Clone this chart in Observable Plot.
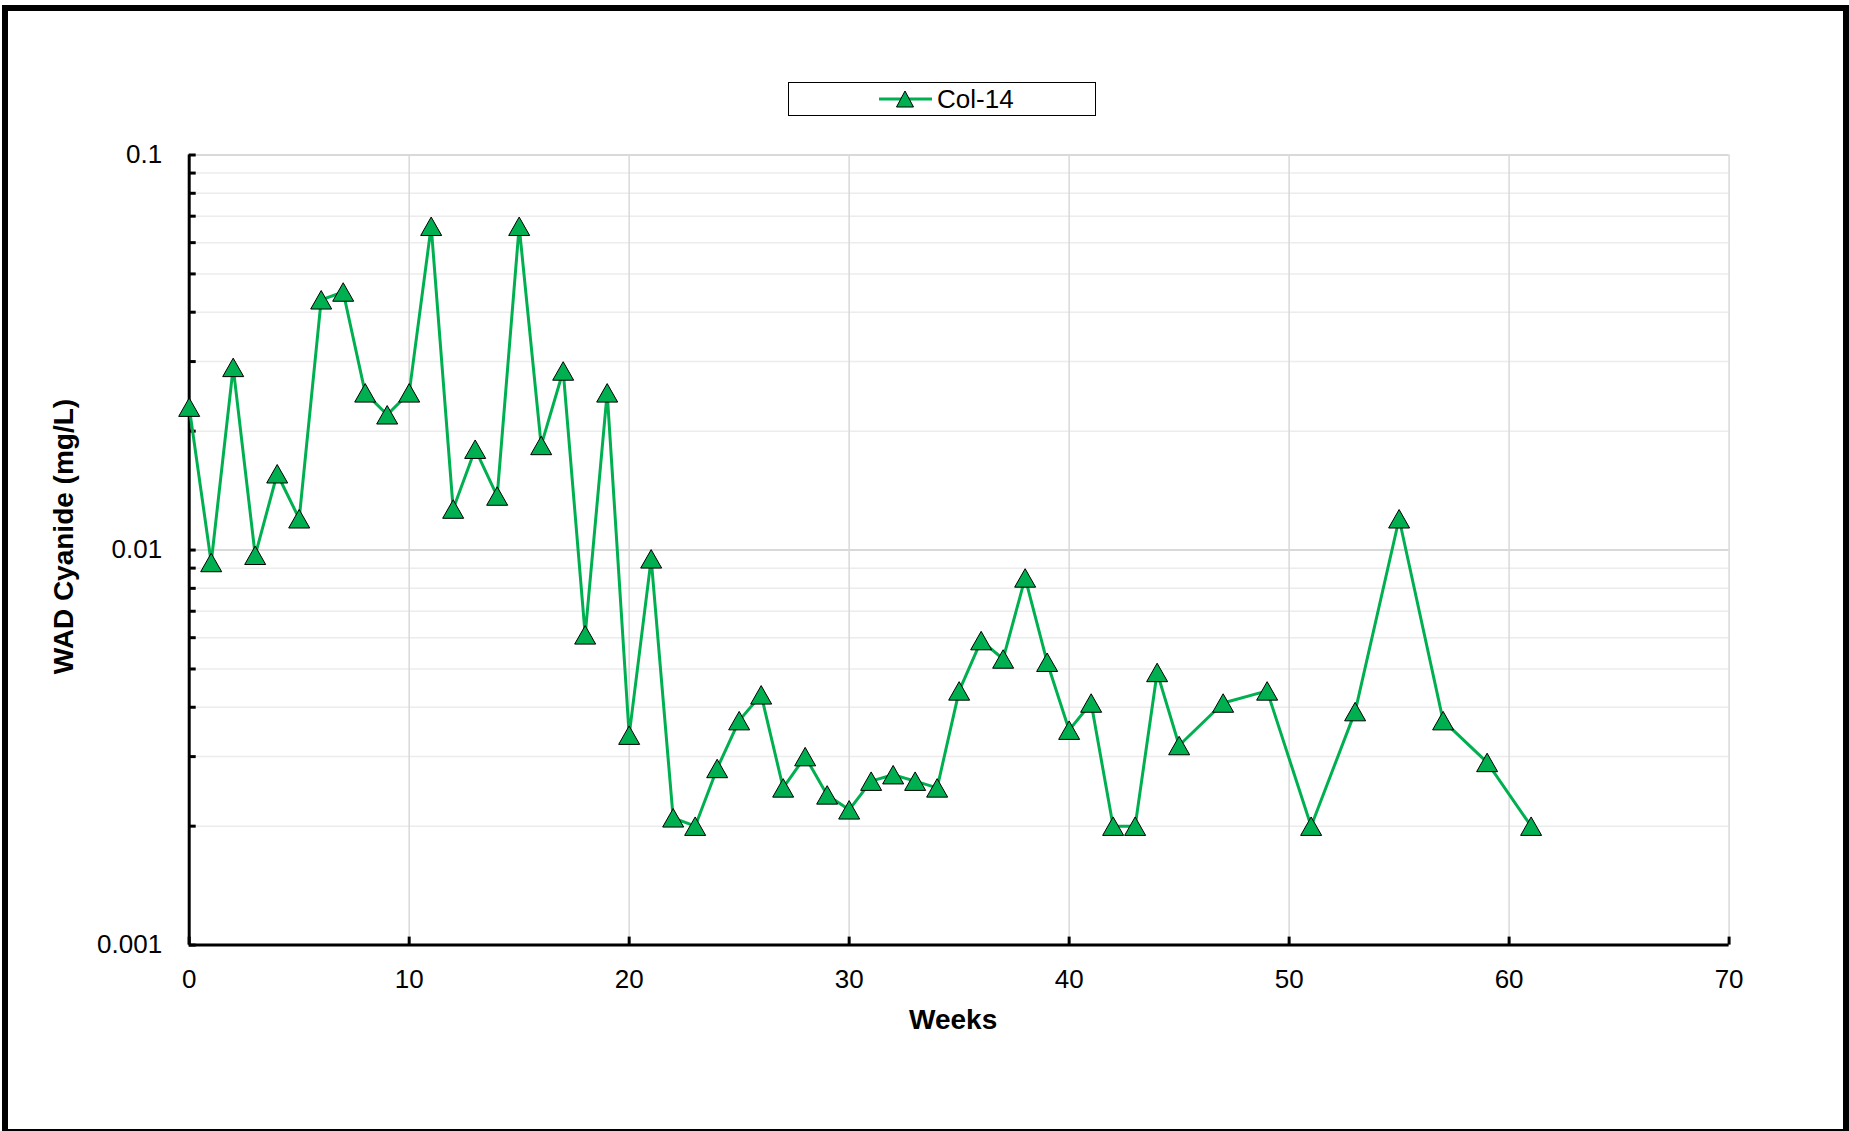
<!DOCTYPE html>
<html>
<head>
<meta charset="utf-8">
<script src="https://cdn.jsdelivr.net/npm/d3@7"></script>
<script src="https://cdn.jsdelivr.net/npm/@observablehq/plot@0.6"></script>
<style>
  html, body { margin: 0; padding: 0; background: #fff; }
  #wrap { position: relative; width: 1849px; height: 1131px; overflow: hidden; font-family: "Liberation Sans", Arial, sans-serif; }
  #chart { position: absolute; left: 0; top: 0; }
  #frame { position: absolute; left: 2px; top: 5px; width: 1847px; height: 1130px; box-sizing: border-box; border: 6px solid #000; pointer-events: none; }
  #legend { position: absolute; left: 788px; top: 82px; width: 308px; height: 34px; box-sizing: border-box; border: 1px solid #000; background: #fff; }
  #legend svg { position: absolute; left: 0; top: 0; }
</style>
</head>
<body>
<div id="wrap">
  <div id="chart"></div>
  <div id="legend"></div>
  <div id="frame"></div>
</div>
<script>
// ---- data ----
const seriesName = "Col-14";
const weeks = [0,1,2,3,4,5,6,7,8,9,10,11,12,13,14,15,16,17,18,19,20,21,22,23,24,25,26,27,28,29,30,31,32,33,34,35,36,37,38,39,40,41,42,43,44,45,47,49,51,53,55,57,59,61];
const cyanide = [0.023,0.0093,0.029,0.0097,0.0156,0.012,0.043,0.045,0.025,0.022,0.025,0.066,0.0127,0.018,0.0137,0.066,0.0184,0.0284,
  0.0061,0.025,0.0034,0.0095,0.0021,0.002,0.0028,0.0037,0.0043,0.0025,0.003,0.0024,0.0022,0.0026,0.0027,0.0026,0.0025,
  0.0044,0.0059,0.0053,0.0085,0.0052,0.0035,0.0041,0.002,0.002,0.0049,0.0032,0.0041,0.0044,0.002,0.0039,0.012,0.0037,0.0029,0.002];
const xTicks = [0,10,20,30,40,50,60,70];
const yMajor = [0.001, 0.01, 0.1];
const yMinor = [0.002,0.003,0.004,0.005,0.006,0.007,0.008,0.009,0.02,0.03,0.04,0.05,0.06,0.07,0.08,0.09];
const xTitle = "Weeks";
const yTitle = "WAD Cyanide (mg/L)";

const data = weeks.map((w, i) => ({week: w, value: cyanide[i]}));

const green = "#00B050";
const font = "Liberation Sans, Arial, sans-serif";

// triangle centered on its bounding box (like Excel markers)
const tri = {
  draw(ctx, size) {
    const r = Math.sqrt(size / Math.PI);
    const h = r * 0.88;
    ctx.moveTo(0, -h);
    ctx.lineTo(r, h);
    ctx.lineTo(-r, h);
    ctx.closePath();
  }
};

const chart = Plot.plot({
  width: 1849,
  height: 1131,
  marginLeft: 188.7,
  marginRight: 120.4,
  marginTop: 154.5,
  marginBottom: 186.4,
  style: {fontFamily: font, fontSize: "26px", color: "#000", background: "transparent"},
  x: {domain: [0, 70]},
  y: {type: "log", domain: [0.001, 0.1]},
  marks: [
    Plot.ruleY(yMinor, {stroke: "#ececec", strokeWidth: 1.5}),
    Plot.ruleY(yMajor.slice(1), {stroke: "#d9d9d9", strokeWidth: 2}),
    Plot.ruleX(xTicks.slice(1), {stroke: "#d9d9d9", strokeWidth: 1.5}),
    // inside ticks
    Plot.axisY({ticks: [...yMinor, ...yMajor], tickSize: 7, dx: 7, tickFormat: () => "", strokeWidth: 3, label: null}),
    Plot.axisX({ticks: xTicks, tickSize: 8, dy: -8, tickFormat: () => "", strokeWidth: 3, label: null}),
    // tick labels
    Plot.axisY({ticks: yMajor, tickSize: 0, tickPadding: 27, tickFormat: d => String(d), fontSize: 26, fill: "#000", label: null}),
    Plot.axisX({ticks: xTicks, tickSize: 0, tickPadding: 24, tickFormat: d => String(d), fontSize: 26, fill: "#000", label: null}),
    // axis lines
    Plot.ruleX([0], {stroke: "#000", strokeWidth: 3}),
    Plot.ruleY([0.001], {stroke: "#000", strokeWidth: 3}),
    // titles
    Plot.text([xTitle], {text: d => d, frameAnchor: "bottom", textAnchor: "middle", lineAnchor: "top", dy: 64, dx: -6, fontWeight: "bold", fontSize: 28, fill: "#000"}),
    Plot.text([yTitle], {text: d => d, frameAnchor: "left", textAnchor: "middle", rotate: -90, lineAnchor: "top", dx: -136, dy: -13.5, fontWeight: "bold", fontSize: 28, fill: "#000"}),
    // series
    Plot.line(data, {x: "week", y: "value", stroke: green, strokeWidth: 3}),
    Plot.dot(data, {x: "week", y: "value", symbol: tri, r: 10.5, fill: green, stroke: "#000", strokeWidth: 1})
  ]
});
document.getElementById("chart").appendChild(chart);

// legend
const ns = "http://www.w3.org/2000/svg";
const lg = document.createElementNS(ns, "svg");
lg.setAttribute("width", 306);
lg.setAttribute("height", 32);
const ln = document.createElementNS(ns, "line");
ln.setAttribute("x1", 90); ln.setAttribute("x2", 143); ln.setAttribute("y1", 16); ln.setAttribute("y2", 16);
ln.setAttribute("stroke", green); ln.setAttribute("stroke-width", 3);
lg.appendChild(ln);
const tp = document.createElementNS(ns, "path");
tp.setAttribute("d", "M116,8L124.5,24L107.5,24Z");
tp.setAttribute("fill", green); tp.setAttribute("stroke", "#000"); tp.setAttribute("stroke-width", 1);
lg.appendChild(tp);
const tx = document.createElementNS(ns, "text");
tx.setAttribute("x", 148); tx.setAttribute("y", 24.5);
tx.setAttribute("font-family", font); tx.setAttribute("font-size", 26); tx.setAttribute("fill", "#000");
tx.textContent = seriesName;
lg.appendChild(tx);
document.getElementById("legend").appendChild(lg);
</script>
</body>
</html>
